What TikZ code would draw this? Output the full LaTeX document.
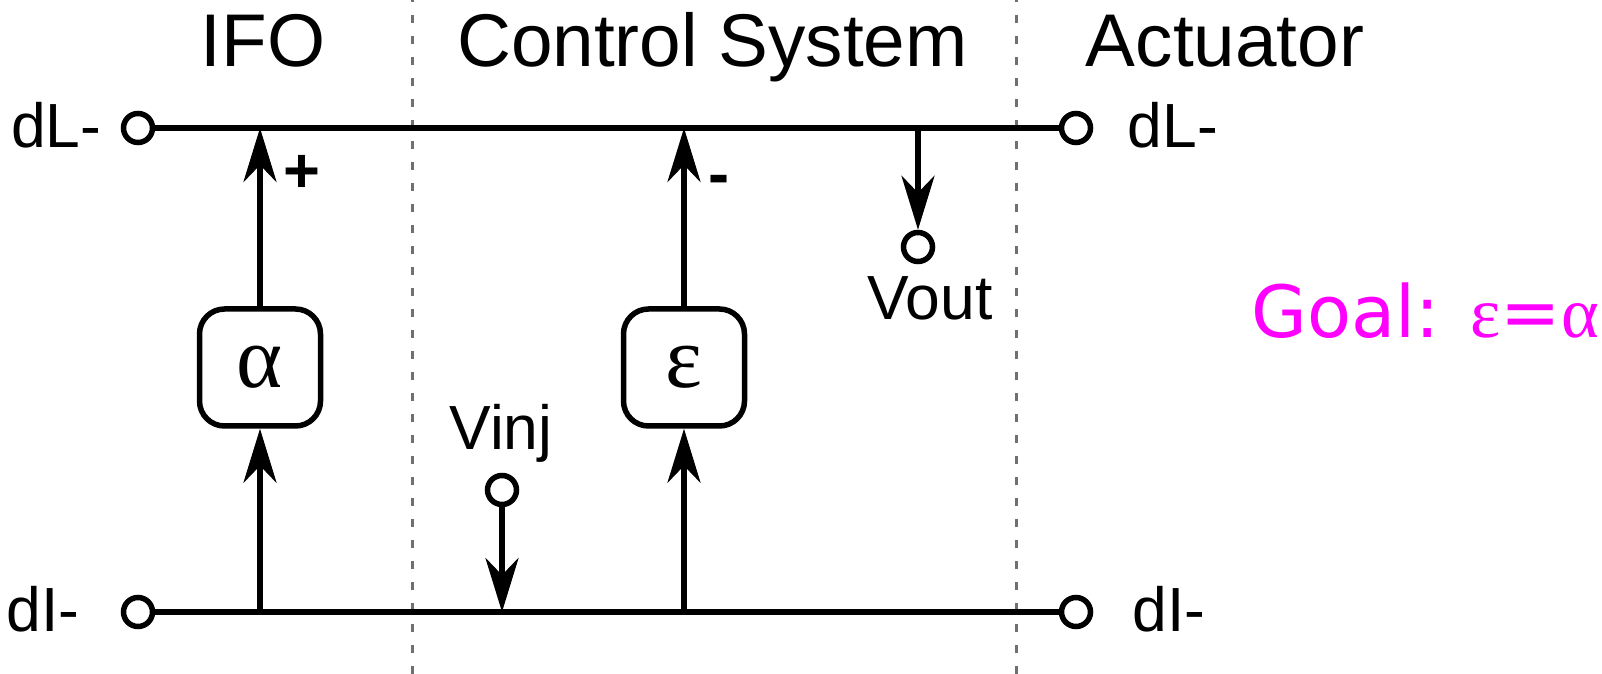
\documentclass[tikz,border=0pt]{standalone}
\usepackage{fontspec}
\setmainfont{Liberation Sans}
\newfontfamily\greekfont{Liberation Serif}
\newfontfamily\goalfont{DejaVu Sans}
\usetikzlibrary{positioning,arrows.meta}
\definecolor{divgray}{HTML}{707070}
\definecolor{goalpink}{HTML}{FF00FF}

\begin{document}
\begin{tikzpicture}[x=1cm,y=1cm,line width=0.11cm,
  port/.style={circle,draw,fill=white,minimum size=0.58cm,inner sep=0pt},
  gainbox/.style={draw,rounded corners=0.5cm,minimum width=2.42cm,minimum height=2.34cm,
    inner sep=0pt,font=\greekfont\fontsize{50}{54}\selectfont},
  title/.style={anchor=base,inner sep=0pt,font=\fontsize{42.5}{48}\selectfont},
  lbl/.style={inner sep=0pt,font=\fontsize{35.5}{40}\selectfont},
  sgn/.style={inner sep=0pt,font=\bfseries\fontsize{36}{40}\selectfont},
  sig/.style={-{Stealth[length=1.08cm,width=0.66cm,inset=0.34cm]}},
  divider/.style={divgray,line width=0.06cm,dash pattern=on 0.16cm off 0.26cm}]
  \useasboundingbox (0,0) rectangle (32.04,13.48);
  % region borders
  \draw[divider] (8.24,0) -- (8.24,13.48);
  \draw[divider] (20.32,0) -- (20.32,13.48);
  \node[title] (ifo) at (5.26,12.14) {IFO};
  \node[title] (ctrl) at (14.25,12.14) {Control System};
  \node[title] (act) at (24.5,12.14) {Actuator};
  % ports
  \node[port] (dLin) at (2.76,10.92) {};
  \node[port] (dIin) at (2.76,1.24) {};
  \node[port] (dLout) at (21.52,10.92) {};
  \node[port] (dIout) at (21.52,1.24) {};
  \node[port] (vout) at (18.36,8.54) {};
  \node[port] (vinj) at (10.04,3.68) {};
  \node[lbl,anchor=base east] (dLinl) at (2.08,10.52) {dL-};
  \node[lbl,anchor=base east] (dIinl) at (1.64,0.84) {dI-};
  \node[lbl,anchor=base west] (dLoutl) at (22.5,10.52) {dL-};
  \node[lbl,anchor=base west] (dIoutl) at (22.6,0.84) {dI-};
  \node[lbl,anchor=base] (voutl) at (18.6,7.08) {Vout};
  \node[lbl,anchor=base] (vinjl) at (10.02,4.48) {Vinj};
  % gains
  \node[gainbox] (alpha) at (5.2,6.13) {α};
  \node[gainbox] (eps) at (13.68,6.13) {ε};
  % junctions
  \coordinate (jAtop) at (5.2,10.92);
  \coordinate (jAbot) at (5.2,1.24);
  \coordinate (jEtop) at (13.68,10.92);
  \coordinate (jEbot) at (13.68,1.24);
  \coordinate (jV) at (18.36,10.92);
  \coordinate (jI) at (10.04,1.24);
  \draw (dLin) -- (dLout);
  \draw (dIin) -- (dIout);
  \draw[sig] (alpha) -- (jAtop);
  \draw[sig] (jAbot) -- (alpha);
  \draw[sig] (eps) -- (jEtop);
  \draw[sig] (jEbot) -- (eps);
  \draw[sig] (jV) -- (vout);
  \draw[sig] (vinj) -- (jI);
  \node[sgn] (plus) at (6.04,10.0) {+};
  \node[sgn] (minus) at (14.38,9.78) {-};
  \node[anchor=base west,inner sep=0pt,text=goalpink,font=\fontsize{41}{48}\selectfont]
    (goal) at (24.98,6.72) {\goalfont Goal: \greekfont ε\goalfont =\greekfont α};
\end{tikzpicture}
\end{document}
